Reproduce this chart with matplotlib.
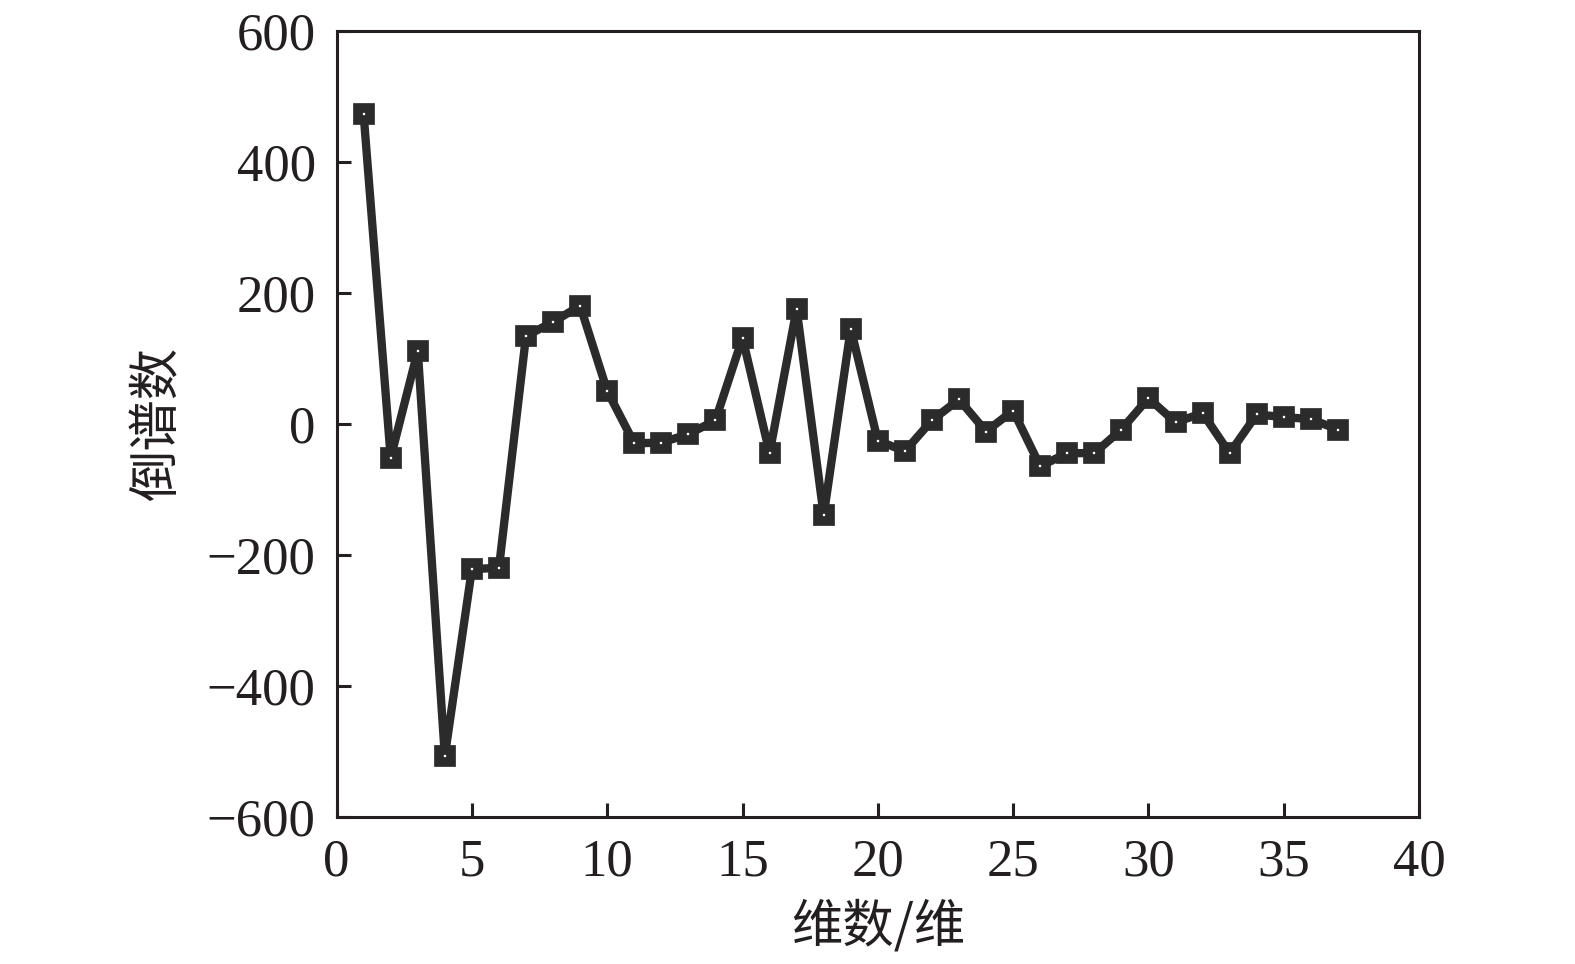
import matplotlib
matplotlib.use("Agg")
import matplotlib.pyplot as plt

# ── Datos ─────────────────────────────────────────────────────────────────────
dimensiones = list(range(1, 38))
cepstrum = [
    473, -51, 112, -506, -221, -219, 135, 156, 181, 51,
    -29, -28, -15, 6, 132, -44, 176, -139, 146, -25,
    -41, 6, 38, -11, 21, -64, -44, -44, -8, 40,
    3, 17, -44, 15, 11, 8, -8,
]
xticks = [0, 5, 10, 15, 20, 25, 30, 35, 40]
yticks = [-600, -400, -200, 0, 200, 400, 600]

plt.rcParams["font.family"] = ["Liberation Serif", "Noto Sans CJK SC"]
plt.rcParams["axes.unicode_minus"] = True

fig = plt.figure(figsize=(15.75, 9.64), dpi=100)
ax = fig.add_axes([0.2137, 0.152, 0.9010 - 0.2137, 0.9677 - 0.152])

color = "#2b2b2b"
ax.plot(dimensiones, cepstrum, color=color, linewidth=6,
        marker="s", markersize=9, markerfacecolor="white",
        markeredgecolor=color, markeredgewidth=7)

ax.set_xlim(0, 40)
ax.set_ylim(-600, 600)
ax.set_xticks(xticks)
ax.set_yticks(yticks)
ax.tick_params(direction="in", length=10, width=2.2, labelsize=38,
               colors="#231f20")
ax.tick_params(axis="y", pad=15)
ax.tick_params(axis="x", pad=15)
for s in ax.spines.values():
    s.set_linewidth(2.2)
    s.set_color("#231f20")

ax.set_xlabel("维数/维", fontsize=37, family=["Noto Sans CJK SC"], color="#231f20",
              labelpad=10)
ax.set_ylabel("倒谱数", fontsize=37, family=["Noto Sans CJK SC"], color="#231f20",
              labelpad=16)

plt.savefig("out.png", dpi=100)
plt.close()
